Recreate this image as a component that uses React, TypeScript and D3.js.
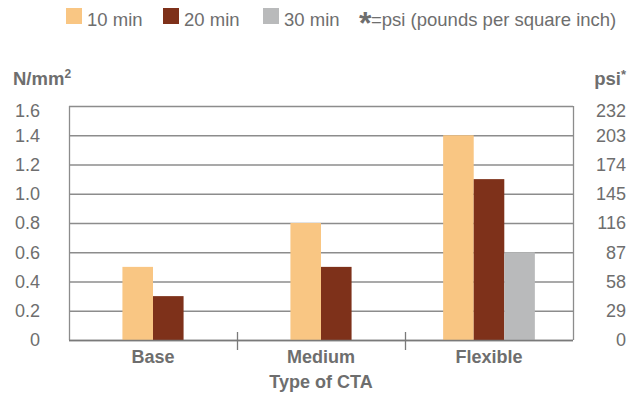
import React from "react";
import * as d3 from "d3";

const categories = ["Base", "Medium", "Flexible"];
const seriesNames = ["10 min", "20 min", "30 min"];
const values10 = [0.5, 0.8, 1.4];
const values20 = [0.3, 0.5, 1.1];
const values30: (number | null)[] = [null, null, 0.6];
const leftTicks = [0, 0.2, 0.4, 0.6, 0.8, 1.0, 1.2, 1.4, 1.6];
const leftTickLabels = ["0", "0.2", "0.4", "0.6", "0.8", "1.0", "1.2", "1.4", "1.6"];
const rightTicks = [0, 29, 58, 87, 116, 145, 174, 203, 232];
const colors = ["#F9C683", "#7E311A", "#B9BABB"];

const W = 644;
const H = 405;
const left = 69;
const right = 573;
const top = 106;
const bottom = 340;
const textColor = "#6e6e6e";
const font = "'Liberation Sans', Arial, Helvetica, sans-serif";

export default function App() {
  const seriesValues = [values10, values20, values30];
  const x = d3.scaleBand<string>().domain(categories).range([left, right]).padding(0);
  const y = d3.scaleLinear().domain([0, 1.6]).range([bottom, top]);
  const yR = d3.scaleLinear().domain([0, 232]).range([bottom, top]);
  const barW = x.bandwidth() * 0.182;

  const bars: React.ReactNode[] = [];
  categories.forEach((c, ci) => {
    const present = seriesNames
      .map((s, si) => ({ s, si, v: seriesValues[si][ci] }))
      .filter((d) => d.v !== null && d.v !== undefined);
    const cx = (x(c) ?? 0) + x.bandwidth() / 2;
    const inner = d3
      .scaleBand<string>()
      .domain(present.map((d) => d.s))
      .range([cx - (present.length * barW) / 2, cx + (present.length * barW) / 2]);
    present.forEach((d) => {
      const v = d.v as number;
      bars.push(
        <rect
          key={c + d.s}
          x={inner(d.s)}
          y={y(v)}
          width={inner.bandwidth()}
          height={bottom - y(v)}
          fill={colors[d.si]}
        />
      );
    });
  });

  const legendX = [66, 163, 263];

  return (
    <svg
      width={W}
      height={H}
      style={{ position: "absolute", left: 0, top: 0, fontFamily: font }}
    >
      <rect x={0} y={0} width={W} height={H} fill="#fff" />
      {/* legend */}
      {seriesNames.map((s, i) => (
        <g key={s}>
          <rect x={legendX[i]} y={8} width={16} height={16} fill={colors[i]} />
          <text x={legendX[i] + 21} y={26} fontSize={18.5} fill={textColor}>
            {s}
          </text>
        </g>
      ))}
      <text x={359} y={34} fontSize={32} fontWeight="bold" fill={textColor}>
        *
      </text>
      <text x={371} y={26} fontSize={18.5} fill={textColor}>
        =psi (pounds per square inch)
      </text>

      {/* axis titles */}
      <text x={13} y={85} fontSize={18.5} fontWeight="bold" fill={textColor}>
        N/mm
        <tspan fontSize={12} dy={-7}>
          2
        </tspan>
      </text>
      <text x={626} y={85} fontSize={18.5} fontWeight="bold" fill={textColor} textAnchor="end">
        psi
        <tspan fontSize={13} dy={-6}>
          *
        </tspan>
      </text>

      {/* grid */}
      {leftTicks.map((t) => (
        <line
          key={"g" + t}
          x1={left}
          x2={right}
          y1={y(t) + 0.5}
          y2={y(t) + 0.5}
          stroke="#8c8c8c"
          strokeWidth={1.3}
        />
      ))}
      <line x1={left + 0.5} x2={left + 0.5} y1={top} y2={bottom} stroke="#8c8c8c" strokeWidth={1.3} />
      <line x1={right + 0.5} x2={right + 0.5} y1={top} y2={bottom} stroke="#8c8c8c" strokeWidth={1.3} />

      {bars}

      {/* x axis */}
      <line x1={left} x2={right} y1={bottom + 0.5} y2={bottom + 0.5} stroke="#7a7a7a" strokeWidth={1.3} />
      {categories.slice(1).map((c) => (
        <line
          key={"sep" + c}
          x1={(x(c) ?? 0) + 0.5}
          x2={(x(c) ?? 0) + 0.5}
          y1={bottom - 8}
          y2={bottom + 10}
          stroke="#7a7a7a"
          strokeWidth={1.3}
        />
      ))}
      {categories.map((c) => (
        <text
          key={"cl" + c}
          x={(x(c) ?? 0) + x.bandwidth() / 2}
          y={363}
          fontSize={18}
          fontWeight="bold"
          textAnchor="middle"
          fill={textColor}
        >
          {c}
        </text>
      ))}
      <text x={321} y={388} fontSize={18} fontWeight="bold" textAnchor="middle" fill={textColor}>
        Type of CTA
      </text>

      {/* left ticks */}
      {leftTicks.map((t, i) => (
        <text
          key={"lt" + t}
          x={40}
          y={Math.max(y(t), top + 5)}
          dy="0.35em"
          fontSize={18}
          textAnchor="end"
          fill={textColor}
        >
          {leftTickLabels[i]}
        </text>
      ))}
      {/* right ticks */}
      {rightTicks.map((t) => (
        <text
          key={"rt" + t}
          x={626}
          y={Math.max(yR(t), top + 5)}
          dy="0.35em"
          fontSize={18}
          textAnchor="end"
          fill={textColor}
        >
          {String(t)}
        </text>
      ))}
    </svg>
  );
}
